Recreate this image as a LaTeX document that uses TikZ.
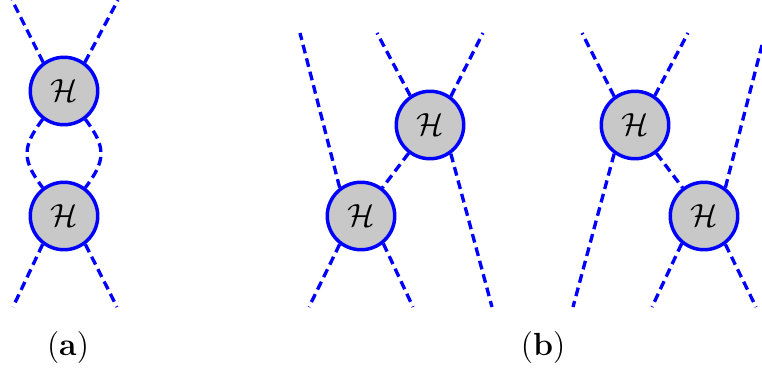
\documentclass[tikz,border=0pt]{standalone}
\usepackage{amsmath}
\begin{document}
\begin{tikzpicture}[x=0.375pt,y=-0.375pt,
  vertex/.style={circle,draw=blue,fill={rgb,255:red,200;green,200;blue,200},line width=1.3pt,minimum size=25.3pt,inner sep=0pt,font=\fontsize{12.5}{14}\selectfont},
  prop/.style={draw=blue,line width=1.25pt,dash pattern=on 3.3pt off 1.9pt},
  lab/.style={font=\fontsize{12}{14}\selectfont,inner sep=0pt}]
\useasboundingbox (0,0) rectangle (762,372);
% (a)
\node[vertex] (A1) at (64,91) {$\mathcal{H}$};
\node[vertex] (A2) at (64,216) {$\mathcal{H}$};
\coordinate (a1) at (12,0);
\coordinate (a2) at (118,0);
\coordinate (a3) at (13,307);
\coordinate (a4) at (117,307);
\draw[prop] (A1.126) -- (a1);
\draw[prop] (A1.54) -- (a2);
\draw[prop] (A1.233) to[out=233,in=127,looseness=1.3] (A2.127);
\draw[prop] (A1.307) to[out=307,in=53,looseness=1.3] (A2.53);
\draw[prop] (A2.233) -- (a3);
\draw[prop] (A2.307) -- (a4);
\node[lab] (la) at (68,348) {(\textbf{a})};
% (b) left
\node[vertex] (U1) at (430,125) {$\mathcal{H}$};
\node[vertex] (L1) at (361,216) {$\mathcal{H}$};
\coordinate (b1) at (300,33);
\coordinate (b2) at (377,33);
\coordinate (b3) at (483,33);
\coordinate (b4) at (492,307);
\coordinate (b5) at (309,307);
\coordinate (b6) at (413,307);
\draw[prop] (L1.127) -- (b1);
\draw[prop] (U1.124) -- (b2);
\draw[prop] (U1.54) -- (b3);
\draw[prop] (U1) -- (L1);
\draw[prop] (U1.306) -- (b4);
\draw[prop] (L1.233) -- (b5);
\draw[prop] (L1.309) -- (b6);
% (b) right
\node[vertex] (U2) at (635,125) {$\mathcal{H}$};
\node[vertex] (L2) at (704,216) {$\mathcal{H}$};
\coordinate (c1) at (762,45);
\coordinate (c2) at (688,33);
\coordinate (c3) at (582,33);
\coordinate (c4) at (573,307);
\coordinate (c5) at (756,307);
\coordinate (c6) at (652,307);
\draw[prop] (L2.53) -- (c1);
\draw[prop] (U2.56) -- (c2);
\draw[prop] (U2.126) -- (c3);
\draw[prop] (U2) -- (L2);
\draw[prop] (U2.234) -- (c4);
\draw[prop] (L2.307) -- (c5);
\draw[prop] (L2.231) -- (c6);
\node[lab] (lb) at (543,348) {(\textbf{b})};
\end{tikzpicture}
\end{document}
